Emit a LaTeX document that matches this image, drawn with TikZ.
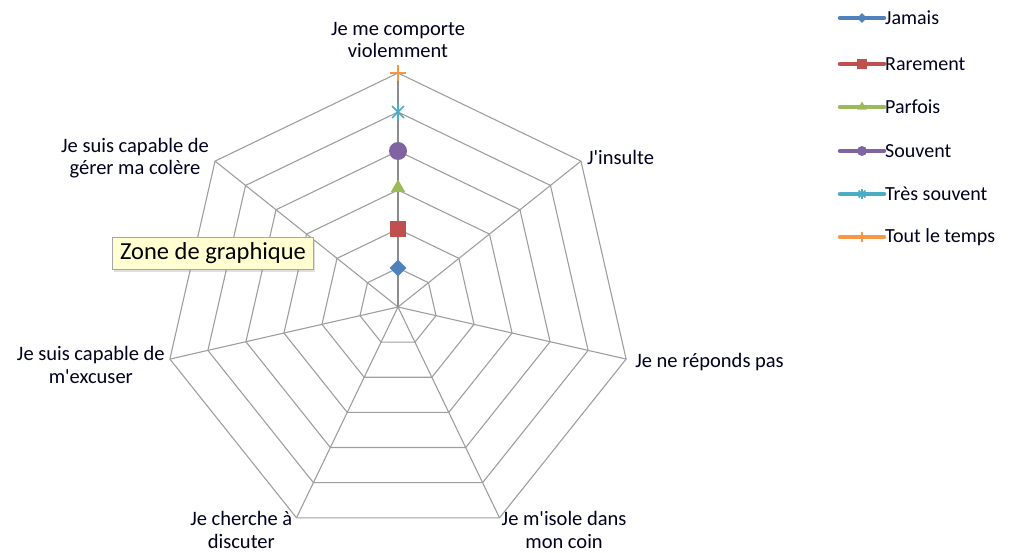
\documentclass[tikz,border=0pt]{standalone}
\usepackage{fontspec}
\setmainfont{Carlito}
\usepackage{xcolor}
\usepackage{tikz}
\usetikzlibrary{positioning}
\usetikzlibrary{shadows}
\usetikzlibrary{shapes.geometric}
\definecolor{jamaiscol}{HTML}{4F81BD}
\definecolor{rarecol}{HTML}{C0504D}
\definecolor{parfoiscol}{HTML}{9BBB59}
\definecolor{souventcol}{HTML}{8064A2}
\definecolor{tressouvcol}{HTML}{4BACC6}
\definecolor{toujourscol}{HTML}{F79646}
\definecolor{tipcol}{HTML}{FFFFD2}

\begin{document}
\begin{tikzpicture}[x=1pt, y=-1pt,
gridline/.style={draw=black!38, line width=1.1pt},
seriesline/.style={draw=black!45, line width=2pt},
axislabel/.style={font=\fontsize{20.5}{22.5}\selectfont, align=center, inner sep=0pt, text=black!88!blue},
legendline/.style={line width=4.5pt, line cap=round},
legendlabel/.style={font=\fontsize{20}{22}\selectfont, anchor=west, inner sep=0pt, text=black!88!blue},
tipbox/.style={rectangle, draw=black!35, fill=tipcol, minimum width=201pt, minimum height=32pt, inner sep=2pt, font=\fontsize{24.5}{26}\selectfont, drop shadow={opacity=0.25, shadow xshift=1pt, shadow yshift=-3pt}},
mkdiamond/.style={diamond, fill=jamaiscol, minimum size=#1, inner sep=0pt},
mksquare/.style={rectangle, fill=rarecol, minimum size=#1, inner sep=0pt},
mktriangle/.style={regular polygon, regular polygon sides=3, fill=parfoiscol, minimum size=#1, inner sep=0pt},
mkcircle/.style={circle, fill=souventcol, minimum size=#1, inner sep=0pt},
mkstar/.style={circle, minimum size=#1, inner sep=0pt, path picture={\draw[tressouvcol, line width=1.6pt] (path picture bounding box.north) -- (path picture bounding box.south) (path picture bounding box.north west) -- (path picture bounding box.south east) (path picture bounding box.north east) -- (path picture bounding box.south west);}},
mkplus/.style={rectangle, minimum size=#1, inner sep=0pt, path picture={\draw[toujourscol, line width=1.6pt] (path picture bounding box.north) -- (path picture bounding box.south) (path picture bounding box.west) -- (path picture bounding box.east);}},
]
\useasboundingbox (0,0) rectangle (1009,553);

%Grid
\coordinate (ctr) at (398,307);
\foreach \r in {1,...,6}{
  \foreach \k in {0,...,6}
    \coordinate (v\r-\k) at ([shift={(-90+360/7*\k:39*\r)}]ctr);
  \draw[gridline] (v\r-0) -- (v\r-1) -- (v\r-2) -- (v\r-3) -- (v\r-4) -- (v\r-5) -- (v\r-6) -- cycle;
}
\foreach \k in {1,...,6}
  \draw[gridline] (ctr) -- (v6-\k);
\draw[seriesline] (ctr) -- (v6-0);

%Axis labels
\node[axislabel]	(lblviol)	[above=15pt of v6-0]				{Je me comporte\\violemment};
\node[axislabel]	(lblinsul)	[right=6pt of v6-1, yshift=4pt]		{J\textquotesingle insulte};
\node[axislabel]	(lblrepond)	[right=9pt of v6-2, yshift=-3pt]	{Je ne réponds pas};
\node[axislabel]	(lblisole)	[right=2pt of v6-3, yshift=-12pt]	{Je m\textquotesingle isole dans\\mon coin};
\node[axislabel]	(lbldisc)	[left=4pt of v6-4, yshift=-12pt]	{Je cherche à\\discuter};
\node[axislabel]	(lblexcuse)	[left=5pt of v6-5, yshift=-6pt]		{Je suis capable de\\m\textquotesingle excuser};
\node[axislabel]	(lblcolere)	[left=6pt of v6-6, yshift=3pt]		{Je suis capable de\\gérer ma colère};

%Markers
\node[mkdiamond=17pt]	(mk1) at (v1-0) {};
\node[mksquare=16pt]	(mk2) at (v2-0) {};
\node[mktriangle=17pt]	(mk3) at ([yshift=2pt]v3-0) {};
\node[mkcircle=18pt]	(mk4) at (v4-0) {};
\node[mkstar=17pt]		(mk5) at (v5-0) {};
\node[mkplus=16pt]		(mk6) at (v6-0) {};

%Tooltip
\node[tipbox]	(tip) at (213,253) {Zone de graphique};

%Legend
\foreach \nm/\col/\yy [count=\i] in {Jamais/jamaiscol/18, Rarement/rarecol/64, Parfois/parfoiscol/107, Souvent/souventcol/151, Très souvent/tressouvcol/194, Tout le temps/toujourscol/237}{
  \coordinate (la\i) at (840,\yy);
  \coordinate (lb\i) at (884,\yy);
  \coordinate (lm\i) at (862,\yy);
  \draw[legendline, \col] (la\i) -- (lb\i);
  \node[legendlabel]	(leg\i)	[right=1pt of lb\i]	{\nm};
}
\node[mkdiamond=10pt]	at (lm1) {};
\node[mksquare=10pt]	at (lm2) {};
\node[mktriangle=11pt]	at (lm3) {};
\node[mkcircle=10pt]	at (lm4) {};
\node[mkstar=10pt]		at (lm5) {};
\node[mkplus=10pt]		at (lm6) {};
\end{tikzpicture}
\end{document}
